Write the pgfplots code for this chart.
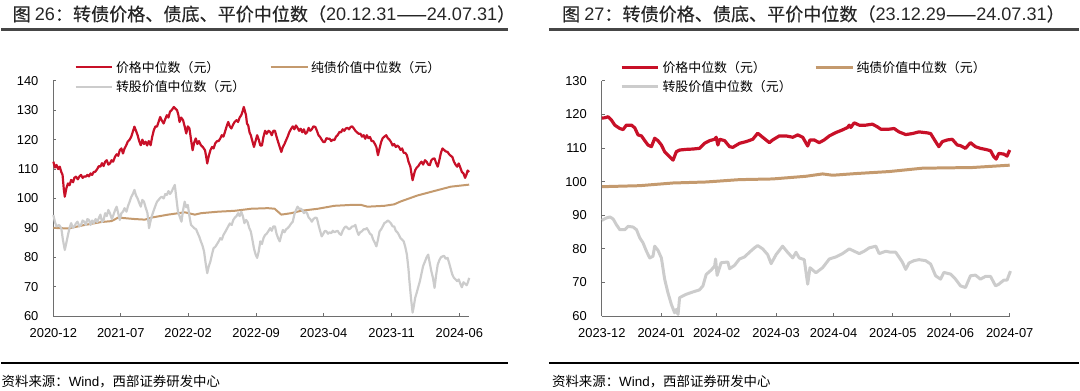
\documentclass[border=0pt]{standalone}
\usepackage{fontspec}
\setmainfont{Liberation Sans}
\newfontfamily\cjk{Noto Sans CJK SC}
\newfontfamily\cjkt{Noto Sans CJK SC}[FakeBold=0.3]
\usepackage{pgfplots}
\pgfplotsset{compat=1.18}
\definecolor{cred}{RGB}{200,16,40}
\definecolor{cbrown}{RGB}{196,154,110}
\definecolor{cgrey}{RGB}{204,204,204}
\definecolor{axgrey}{RGB}{110,110,110}
\definecolor{rulegrey}{RGB}{70,70,70}
\pgfplotsset{
  common/.style={
    scale only axis, anchor=south west,
    axis x line*=bottom, axis y line*=left,
    axis line style={draw=axgrey, line width=1bp},
    tick align=inside, major tick length=3bp,
    tick style={draw=axgrey, line width=1bp},
    every tick label/.append style={font=\fontsize{13}{13}\selectfont, text=black},
    /pgf/number format/assume math mode=true,
    yticklabel style={xshift=-11.5bp},
    xticklabel style={yshift=-8.5bp},
    clip=false,
    legend columns=2, legend cell align=left,
    legend image code/.code={\draw[##1] (0bp,0bp) -- (37bp,0bp);},
    legend style={draw=none, fill=none, inner sep=0pt, at={(0,1)}, anchor=north west,
      font=\cjk\fontsize{13}{13}\selectfont, row sep=5bp,
      nodes={inner xsep=2.5bp, inner ysep=1bp}},
  }
}
\begin{document}
\begin{tikzpicture}[x=1bp,y=1bp]
\path (0,0) rectangle (1080,392);
% titles and rules
\node[anchor=west, inner sep=0pt, font=\fontsize{18.2}{18.2}\selectfont, text=black!85] at (11,378)
  {{\cjkt 图 }26{\cjkt ：转债价格、债底、平价中位数（}20.12.31{\cjkt ——}24.07.31{\cjkt ）}};
\draw[rulegrey, line width=3bp] (0,362.5) -- (508,362.5);
\node[anchor=west, inner sep=0pt, font=\fontsize{18.2}{18.2}\selectfont, text=black!85] at (562,378)
  {{\cjkt 图 }27{\cjkt ：转债价格、债底、平价中位数（}23.12.29{\cjkt ——}24.07.31{\cjkt ）}};
\draw[rulegrey, line width=3bp] (549,362.5) -- (1080,362.5);
\draw[black, line width=1.2bp] (0,28) -- (508,28);
\draw[black, line width=1.2bp] (549,28) -- (1080,28);
\node[anchor=west, inner sep=0pt, font=\fontsize{13.5}{13.5}\selectfont] at (0,9)
  {{\cjk 资料来源：}Wind{\cjk ，西部证券研发中心}};
\node[anchor=west, inner sep=0pt, font=\fontsize{13.5}{13.5}\selectfont] at (552,9)
  {{\cjk 资料来源：}Wind{\cjk ，西部证券研发中心}};

% ---------- left panel ----------
\begin{axis}[common, at={(52bp,75bp)}, width=417bp, height=236bp,
  xmin=0, xmax=1308, ymin=60, ymax=140, ytick={60,70,...,140},
  xtick={0,212,424,638,850,1064,1277},
  xticklabels={2020-12,2021-07,2022-02,2022-09,2023-04,2023-11,2024-06},
  legend style={xshift=21bp, yshift=21bp, /tikz/every even column/.append style={column sep=22bp}}]
\addplot[cred, line width=2.2bp, line join=round] coordinates {
(0,112.5)(5,110.5)(10,111.4)(15,110)(20,110.8)(25,109)(29,108)(33,103)(36,100.6)(41,103.5)(46,105.1)(51,104.5)(56,106.3)(62,105.5)(66,107)(71,107.4)(77,106.5)(82,107.5)(87,108)(92,107)(97,107.5)(102,107.4)(107,108)(112,107.5)(117,108.5)(122,108)(127,109)(132,109.1)(138,110)(143,111)(148,110.8)(153,112)(158,111)(163,112.5)(168,113)(173,111.5)(178,111.9)(183,113)(188,112.5)(194,114.2)(199,115)(204,114.5)(209,116.4)(214,117)(219,115.3)(224,117)(229,118)(234,119.3)(240,120)(245,121)(250,122.7)(255,124.4)(260,123)(265,121.5)(270,119.5)(275,118.1)(280,120)(285,118.5)(290,119.3)(295,118)(300,119.5)(306,118.1)(311,121)(316,123.2)(321,124.5)(326,124.4)(331,126)(336,127.7)(341,126.5)(347,125.5)(352,127)(357,128.3)(362,127.5)(367,129.5)(372,130)(379,131.1)(384,130.5)(389,130)(393,128.5)(397,126)(402,127.5)(408,126.6)(413,124.5)(418,122.1)(423,124.5)(428,123.8)(433,120)(438,116.4)(443,119)(448,120.4)(453,118.5)(458,119.5)(464,118.1)(470,117.5)(477,116.4)(481,114)(484,111.9)(489,114.5)(494,116.4)(499,117.5)(504,117)(509,118.7)(515,119.5)(520,119.5)(525,120.4)(530,121.5)(535,121)(540,122.7)(545,124.5)(550,126)(555,124.5)(560,123.8)(565,125)(570,126)(576,126.6)(581,126)(586,127.5)(591,128.3)(595,129.5)(599,131.1)(603,129.5)(606,128.3)(609,125.5)(613,124.8)(617,122.5)(621,121.5)(626,119.5)(631,117.5)(636,119.5)(641,121.5)(646,120)(651,118)(656,118)(661,121)(666,123)(671,122)(677,123)(682,122.6)(687,121.5)(692,123)(697,123)(702,121)(707,119.2)(712,117.5)(717,115.8)(722,117.5)(727,118.5)(732,119.8)(737,121)(742,122.5)(748,123.7)(753,124.5)(758,123.5)(763,124.8)(768,124)(773,123)(778,123.7)(783,122.5)(788,123.5)(793,122)(798,122.5)(803,124)(808,123)(813,123.5)(818,124.5)(824,124.3)(829,123)(834,121.5)(839,120.9)(844,120)(849,119.2)(854,119.2)(859,120.5)(864,120.3)(869,120.3)(874,119.5)(879,120)(884,119.8)(889,121)(894,121.5)(900,122.6)(905,122.5)(910,123.5)(915,123)(920,123.8)(925,124)(930,123.5)(935,124.3)(940,124.5)(945,123.8)(950,123)(955,122.5)(960,122)(966,122)(971,121)(976,121.5)(981,120.3)(986,121.5)(991,120.5)(996,120.9)(1001,119.5)(1006,119.5)(1011,118.6)(1016,117.5)(1021,114.7)(1026,117)(1031,119.2)(1036,120.5)(1041,121)(1047,121.5)(1052,120.5)(1057,120)(1062,119.2)(1067,118)(1072,118.5)(1077,117.5)(1082,118)(1087,117.5)(1092,116.5)(1097,117)(1102,115.5)(1107,115.5)(1112,114.7)(1117,112.5)(1123,110.8)(1127,108)(1130,106.2)(1134,108)(1138,109.6)(1143,110.5)(1148,111)(1153,111.9)(1158,112.5)(1163,111.5)(1169,113)(1174,112.5)(1179,111.5)(1184,111.3)(1189,113)(1194,113.5)(1199,113.6)(1204,112)(1209,110.8)(1214,113)(1219,115.5)(1224,117)(1229,116.5)(1234,116)(1240,115.8)(1245,115)(1250,114.5)(1255,114.1)(1260,112.5)(1265,111.5)(1270,110.8)(1275,111.9)(1280,110.5)(1285,109)(1290,108.5)(1295,107)(1299,108)(1303,109.5)(1308,109)};
\addlegendentry{价格中位数（元）}
\addplot[cbrown, line width=2bp, line join=round] coordinates {
(0,90)(47,89.8)(99,91)(152,92)(183,92.3)(204,93.5)(256,93)(288,92.8)(309,93.5)(361,94.5)(413,95.3)(445,94.5)(465,95)(518,95.5)(570,95.8)(622,96.5)(675,96.7)(696,96.5)(717,94.5)(748,95)(779,95.8)(832,96.5)(884,97.5)(936,97.8)(968,97.8)(988,97.2)(1041,97.5)(1072,98)(1093,99)(1145,101)(1197,102.5)(1250,104)(1308,104.7)};
\addlegendentry{纯债价值中位数（元）}
\addplot[cgrey, line width=2.2bp, line join=round] coordinates {
(0,94.4)(5,92)(10,90.5)(18,91)(25,89.9)(30,86)(36,82.5)(41,85)(46,87.6)(51,90)(56,91.6)(61,90)(66,90.5)(71,91.5)(76,92.1)(82,90.5)(87,91)(92,92.5)(97,92.1)(102,91)(107,93)(112,92.7)(117,91)(122,92.5)(127,91.6)(133,93)(138,92)(143,93.3)(148,94.5)(153,92)(158,92.7)(163,95)(168,94)(173,96.1)(178,95)(184,93)(189,94.4)(194,96)(199,97.2)(204,95)(209,92.7)(214,95)(219,95.5)(224,96.7)(230,95.5)(235,97.5)(240,98.9)(245,100.5)(250,101.5)(255,102.9)(260,101)(265,100)(270,98.5)(275,97.2)(280,99.5)(285,98.9)(290,97)(296,95)(301,89.9)(306,92.5)(311,94.4)(316,96)(321,97.5)(326,98.9)(331,99.5)(336,100.2)(341,100.6)(347,100)(352,101.5)(357,101.2)(362,102.5)(367,101.5)(372,102.3)(377,103.5)(382,104.6)(387,100)(392,95.5)(397,94)(403,92.1)(408,96)(413,98.9)(418,97)(423,97.8)(428,94)(433,91)(438,90.5)(443,89.9)(449,89.5)(454,88.2)(459,87)(464,85.4)(469,84)(474,82)(479,78)(484,74.6)(489,77)(494,78.6)(499,81)(504,83.1)(509,83.5)(515,84.5)(520,85.4)(525,86.5)(530,86)(535,87.6)(540,88.5)(545,89.5)(550,90.5)(555,91.5)(561,91)(566,92.7)(571,93.5)(576,94)(581,95)(586,94)(591,95.5)(596,94)(601,91.6)(606,92.7)(611,92)(616,90)(621,88.8)(626,86)(631,83)(636,81)(641,79.8)(646,82)(651,85.4)(656,84.5)(661,86.5)(666,87.6)(671,88)(677,89)(682,89.9)(687,89)(692,90.5)(697,90.5)(702,88)(707,86.5)(712,85.4)(717,87.5)(722,89.3)(727,88.5)(732,89.5)(737,89.9)(742,90.5)(748,91.5)(753,92.1)(758,94.5)(763,96)(768,97.2)(773,96.5)(778,96.5)(783,96.1)(788,95)(793,95.5)(798,95)(803,93.5)(808,93)(813,92.1)(818,93)(824,93.5)(829,93.3)(834,91)(839,89)(844,87.1)(849,88)(854,89)(859,88.8)(864,88)(869,88.5)(874,88.2)(879,89)(884,88.5)(889,88.8)(894,89)(900,88)(905,87.6)(910,89)(915,90)(920,90.5)(925,90)(930,89.5)(935,89.9)(940,90.5)(945,90.5)(950,91)(955,89)(960,87.6)(965,88.5)(970,88.8)(976,89.5)(981,89.5)(986,89.9)(991,89)(996,88)(1001,87.6)(1006,86)(1011,85)(1016,83.7)(1021,86)(1026,88.8)(1031,89.5)(1036,90.5)(1041,91.6)(1047,92)(1052,92.5)(1057,92.1)(1062,91.5)(1067,90.5)(1072,90.5)(1077,89)(1082,88.5)(1087,87.6)(1092,86.5)(1097,86)(1102,85.4)(1107,83.5)(1112,80.9)(1117,76)(1120,71.9)(1125,66)(1130,61.2)(1134,63.5)(1138,66.2)(1143,68)(1148,70)(1153,71.9)(1158,74.5)(1163,77)(1169,78.6)(1174,80)(1179,80.9)(1184,78)(1189,75.2)(1194,73)(1199,69.6)(1204,74)(1209,77.5)(1214,79)(1219,80)(1224,80.3)(1229,80.5)(1234,79.5)(1240,79.8)(1245,78)(1250,76)(1255,74.1)(1260,73)(1265,72.5)(1270,71.9)(1275,72.5)(1280,71)(1285,69.8)(1290,71.5)(1295,71)(1300,70.5)(1304,71.5)(1308,73)};
\addlegendentry{转股价值中位数（元）}
\end{axis}

% ---------- right panel ----------
\begin{axis}[common, at={(602bp,75bp)}, width=409bp, height=236bp,
  xmin=0, xmax=213, ymin=60, ymax=130, ytick={60,70,...,130},
  xtick={0,31,60,91,121,152,182,213},
  xticklabels={2023-12,2024-01,2024-02,2024-03,2024-04,2024-05,2024-06,2024-07},
  legend style={xshift=18bp, yshift=21bp, /tikz/every even column/.append style={column sep=20bp}}]
\addplot[cred, line width=3.2bp, line join=round] coordinates {
(0,118.9)(1.6,119)(3.3,119.3)(5,118.3)(6.8,116.8)(9.4,115.8)(11.1,115.5)(12.8,116.8)(15.5,116.8)(17.2,116)(18.9,113.9)(20.7,113.6)(22.4,112.2)(24.1,110.9)(25.9,110.4)(27.6,112.9)(29.3,112.2)(31.1,110.9)(32.8,108.9)(34.5,107.9)(36.3,106.9)(37.2,106.4)(38.9,108.9)(40.6,109.4)(44.1,109.6)(47.6,109.7)(51,109.9)(53.6,111.4)(56.3,112.2)(58.9,112.6)(59.7,113.2)(60.6,110.9)(61.5,112.6)(64.1,112.2)(66.7,110.4)(68.4,110.2)(71.9,111.4)(75.3,111.9)(78.8,112.6)(81.4,114.4)(84,113.2)(87.5,111.6)(89.2,112.4)(92.7,113.6)(96.2,113.6)(99.7,113.2)(102.3,113.9)(104.9,113.2)(107.5,110.6)(108.7,112.4)(110.9,112.4)(113.5,111.6)(116.1,112.4)(118.8,113.6)(122.2,114.6)(125.7,115.4)(128.3,116.1)(129.2,116.8)(130,116.1)(131.8,117.5)(134.4,116.8)(137.8,116.8)(141.3,117.1)(143.9,116.3)(145.7,115.6)(150,115.6)(152.6,115.8)(155.2,114.8)(158.7,114)(162.2,114.3)(165.6,114.8)(170,114.5)(171.7,114.3)(174.3,111.9)(176,110.4)(177.8,111.9)(180.4,112.4)(183,112.6)(185.6,110.9)(187.3,110.7)(189.9,109.9)(192.5,111.6)(195.1,110.4)(197.7,109.9)(200.3,109.6)(203,109.2)(204.7,107.4)(205.9,106.7)(207.3,108.4)(209.9,108.2)(211.6,107.6)(213,109.4)};
\addlegendentry{价格中位数（元）}
\addplot[cbrown, line width=3bp, line join=round] coordinates {
(0,98.5)(19.8,98.8)(37.2,99.6)(54.5,99.9)(71.9,100.6)(89.2,100.8)(106.6,101.6)(115.3,102.3)(120.5,101.9)(132.6,102.4)(150,103)(167.4,104)(193.4,104.2)(213,104.9)};
\addlegendentry{纯债价值中位数（元）}
\addplot[cgrey, line width=3bp, line join=round] coordinates {
(0,88.5)(2.4,89.2)(4.2,89.5)(5.9,88.9)(7.6,87.2)(9.4,85.7)(12,85.7)(13.7,86.7)(16.3,86.5)(18.1,85.7)(19.8,83.3)(21.5,81.8)(23.3,79.3)(25,77.3)(26.7,77.8)(27.6,80.8)(29.3,79.6)(31.1,77.3)(32.8,71)(34.5,67)(36.3,63.5)(38,61)(38.9,62)(39.8,60.5)(40.6,65.5)(44.1,66.5)(47.6,67.2)(51,67.8)(52.8,69)(54.5,72.4)(57.1,73.7)(58.9,74.9)(59.4,77)(60.2,72.1)(62.3,75.9)(65.8,76.1)(66.7,74.1)(69.3,75.1)(71.9,77)(74.5,77.6)(77.1,79)(79.7,80.3)(81.4,81)(84,80)(86.6,78.3)(88.4,75.6)(91,78.3)(94.4,80.8)(97,79)(99.7,77.3)(101.4,79)(103.1,77.3)(105.7,76.8)(107.5,69.5)(108.7,74.4)(111.8,72.9)(115.3,74.4)(118.8,77)(122.2,77.6)(125.7,78.6)(129.2,80)(131.8,79.3)(134.4,78.6)(137,79.3)(139.6,80.3)(143.1,80.8)(144.8,78.6)(148.3,79.3)(150.9,79)(153.5,79)(156.9,76.1)(158.7,73.9)(160.4,75.8)(163,76.5)(165.6,76.8)(169.1,76.5)(171.7,75.5)(174.3,72)(176.9,71)(178.6,73)(182.1,72.5)(184.7,71)(187.3,69)(189.9,68.5)(192.5,72)(195.1,72.2)(197.7,71)(200.3,71.8)(203,71.8)(205.6,69)(207.3,69.5)(209.9,70.7)(211.6,70.7)(213.4,73.4)};
\addlegendentry{转股价值中位数（元）}
\end{axis}
\end{tikzpicture}
\end{document}
